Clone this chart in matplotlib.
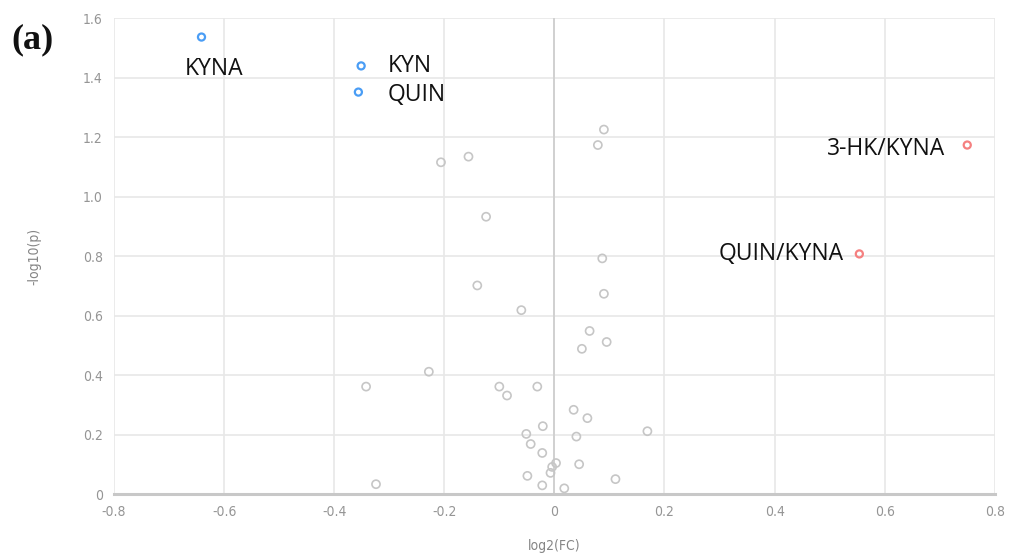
import matplotlib.pyplot as plt

# gray (non significant) points
fc_gray = [0.090, 0.079, -0.156, -0.206, -0.124, 0.087, -0.140, 0.090, -0.060, 0.064,
           0.095, 0.050, -0.228, -0.342, -0.100, -0.031, -0.086, 0.035, 0.060, -0.021,
           0.169, -0.051, 0.040, -0.043, -0.022, 0.003, 0.045, -0.004, -0.007, -0.049,
           0.111, -0.324, -0.022, 0.018]
p_gray = [1.225, 1.173, 1.134, 1.115, 0.932, 0.792, 0.701, 0.673, 0.618, 0.548,
          0.511, 0.488, 0.411, 0.361, 0.361, 0.361, 0.331, 0.283, 0.255, 0.228,
          0.211, 0.202, 0.193, 0.168, 0.138, 0.104, 0.100, 0.091, 0.071, 0.061,
          0.050, 0.033, 0.029, 0.019]

# down-regulated (blue)
down_names = ['KYNA', 'KYN', 'QUIN']
fc_down = [-0.641, -0.351, -0.356]
p_down = [1.536, 1.439, 1.351]

# up-regulated (red)
up_names = ['3-HK/KYNA', 'QUIN/KYNA']
fc_up = [0.750, 0.554]
p_up = [1.173, 0.807]

xticks = [-0.8, -0.6, -0.4, -0.2, 0, 0.2, 0.4, 0.6, 0.8]
yticks = [0, 0.2, 0.4, 0.6, 0.8, 1.0, 1.2, 1.4, 1.6]
xtick_labels = ['-0.8', '-0.6', '-0.4', '-0.2', '0', '0.2', '0.4', '0.6', '0.8']
ytick_labels = ['0', '0.2', '0.4', '0.6', '0.8', '1.0', '1.2', '1.4', '1.6']

fig = plt.figure(figsize=(10.13, 5.54), dpi=100)
ax = fig.add_axes([0.1125, 0.1083, 0.8695, 0.8592])

ax.scatter(fc_gray, p_gray, s=34, facecolors='none', edgecolors='#c6c6c6', linewidths=1.2, zorder=3)
ax.scatter(fc_down, p_down, s=26, facecolors='none', edgecolors='#4a9df5', linewidths=1.6, zorder=3)
ax.scatter(fc_up, p_up, s=26, facecolors='none', edgecolors='#f58080', linewidths=1.6, zorder=3)

lab_font = dict(family='Open Sans', fontsize=16.5, color='#111111')
offsets = {'KYNA': (9, -23, 'center'), 'KYN': (19, 0, 'left'), 'QUIN': (21, -2, 'left')}
for name, x, y in zip(down_names, fc_down, p_down):
    dx, dy, ha = offsets[name]
    ax.annotate(name, (x, y), xytext=(dx, dy), textcoords='offset points',
                ha=ha, va='center', **lab_font)
up_offsets = {'3-HK/KYNA': (-16, -3), 'QUIN/KYNA': (-11, 0)}
for name, x, y in zip(up_names, fc_up, p_up):
    dx, dy = up_offsets[name]
    ax.annotate(name, (x, y), xytext=(dx, dy), textcoords='offset points',
                ha='right', va='center', **lab_font)

ax.set_xlim(-0.8, 0.8)
ax.set_ylim(0, 1.6)
ax.set_xticks(xticks)
ax.set_xticklabels(xtick_labels)
ax.set_yticks(yticks)
ax.set_yticklabels(ytick_labels)
ax.grid(True, color='#e8e8e8', linewidth=1.2)
ax.set_axisbelow(True)
for s in ax.spines.values():
    s.set_visible(False)
ax.axvline(0, color='#cfcfcf', linewidth=1.3, zorder=1)
ax.axhline(0, color='#c8c8c8', linewidth=2.2, zorder=1, clip_on=False)
ax.tick_params(length=0, labelsize=10, labelcolor='#959595', pad=8)
for lbl in ax.get_xticklabels() + ax.get_yticklabels():
    lbl.set_fontstretch('condensed')

ax.set_xlabel('log2(FC)', fontsize=10, fontstretch='condensed', color='#858585', labelpad=14)
ax.set_ylabel('-log10(p)', fontsize=10, fontstretch='condensed', color='#858585', labelpad=30)

fig.text(0.011, 0.913, '(a)', family='Liberation Serif', fontweight='bold', fontsize=26, color='#111111')

fig.savefig('out.png', dpi=100)
